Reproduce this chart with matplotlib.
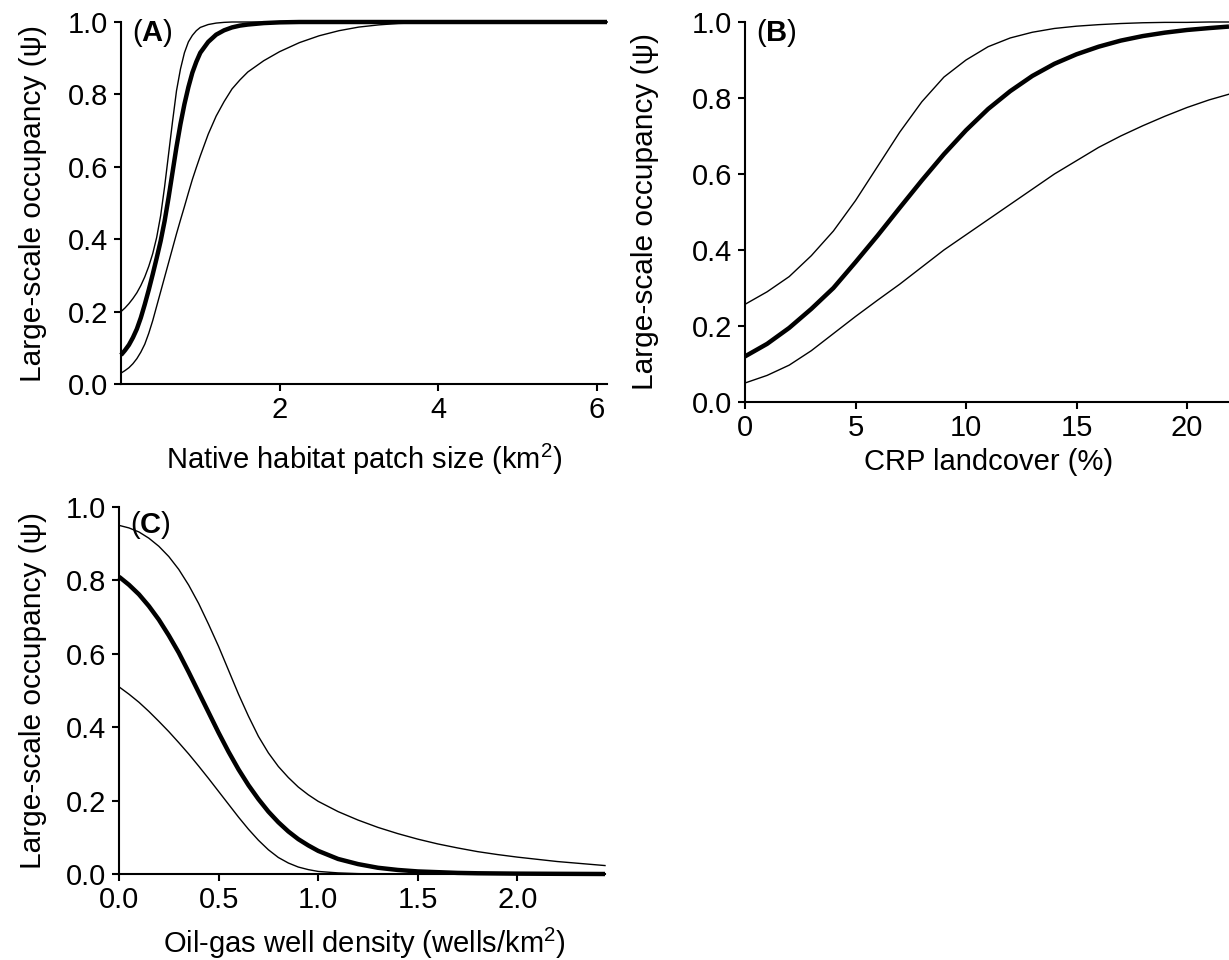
import matplotlib
matplotlib.use("Agg")
import matplotlib.pyplot as plt

plt.rcParams['font.family'] = ['Liberation Sans', 'DejaVu Sans']
plt.rcParams['mathtext.fontset'] = 'custom'
plt.rcParams['mathtext.rm'] = 'Liberation Sans'
plt.rcParams['mathtext.bf'] = 'Liberation Sans:bold'

# Panel A: native habitat patch size (km2)
a_x = [0, 0.05, 0.1, 0.15, 0.2, 0.25, 0.3, 0.35, 0.4, 0.45, 0.5, 0.55, 0.6, 0.65, 0.7,
       0.75, 0.8, 0.85, 0.9, 0.95, 1.0, 1.1, 1.2, 1.3, 1.4, 1.5, 1.6, 1.8, 2.0, 2.25,
       2.5, 2.75, 3.0, 3.25, 3.5, 4.0, 4.5, 6.13]
a_mean = [0.08, 0.093, 0.108, 0.128, 0.152, 0.183, 0.22, 0.26, 0.303, 0.348, 0.395, 0.45,
          0.515, 0.585, 0.655, 0.718, 0.773, 0.82, 0.86, 0.89, 0.915, 0.945, 0.965, 0.977,
          0.985, 0.99, 0.993, 0.997, 0.999, 1.0, 1.0, 1.0, 1.0, 1.0, 1.0, 1.0, 1.0, 1.0]
a_upper = [0.20, 0.21, 0.222, 0.236, 0.252, 0.272, 0.296, 0.325, 0.36, 0.405, 0.465, 0.545,
           0.635, 0.725, 0.81, 0.87, 0.915, 0.945, 0.963, 0.976, 0.985, 0.993, 0.997, 0.999,
           1.0, 1.0, 1.0, 1.0, 1.0, 1.0, 1.0, 1.0, 1.0, 1.0, 1.0, 1.0, 1.0, 1.0]
a_lower = [0.03, 0.037, 0.045, 0.056, 0.07, 0.088, 0.11, 0.14, 0.175, 0.215, 0.255, 0.295,
           0.335, 0.375, 0.415, 0.453, 0.49, 0.528, 0.565, 0.598, 0.63, 0.69, 0.74, 0.78,
           0.815, 0.84, 0.862, 0.893, 0.918, 0.943, 0.962, 0.976, 0.986, 0.992, 0.996,
           0.999, 1.0, 1.0]

# Panel B: CRP landcover (%)
b_x = [0, 1, 2, 3, 4, 5, 6, 7, 8, 9, 10, 11, 12, 13, 14, 15, 16, 17, 18, 19, 20, 21, 21.9]
b_mean = [0.12, 0.153, 0.195, 0.245, 0.30, 0.368, 0.438, 0.511, 0.583, 0.652, 0.715, 0.771,
          0.818, 0.858, 0.89, 0.915, 0.935, 0.951, 0.963, 0.972, 0.979, 0.984, 0.988]
b_upper = [0.257, 0.29, 0.33, 0.385, 0.45, 0.53, 0.62, 0.71, 0.79, 0.855, 0.90, 0.935,
           0.958, 0.973, 0.983, 0.989, 0.993, 0.996, 0.998, 0.999, 0.999, 1.0, 1.0]
b_lower = [0.05, 0.07, 0.097, 0.135, 0.18, 0.225, 0.268, 0.31, 0.355, 0.40, 0.44, 0.48,
           0.52, 0.56, 0.60, 0.635, 0.67, 0.70, 0.727, 0.752, 0.775, 0.795, 0.81]

# Panel C: oil-gas well density (wells/km2)
c_x = [0, 0.05, 0.1, 0.15, 0.2, 0.25, 0.3, 0.35, 0.4, 0.45, 0.5, 0.55, 0.6, 0.65, 0.7,
       0.75, 0.8, 0.85, 0.9, 0.95, 1.0, 1.1, 1.2, 1.3, 1.4, 1.5, 1.6, 1.7, 1.8, 1.9, 2.0,
       2.2, 2.44]
c_mean = [0.81, 0.788, 0.762, 0.73, 0.693, 0.65, 0.603, 0.55, 0.495, 0.44, 0.385, 0.333,
          0.285, 0.242, 0.204, 0.17, 0.141, 0.116, 0.095, 0.078, 0.063, 0.041, 0.027,
          0.017, 0.011, 0.007, 0.005, 0.003, 0.002, 0.0015, 0.001, 0.0005, 0.0]
c_upper = [0.95, 0.943, 0.932, 0.915, 0.893, 0.865, 0.83, 0.787, 0.737, 0.68, 0.62, 0.555,
           0.49, 0.43, 0.375, 0.33, 0.293, 0.263, 0.237, 0.216, 0.198, 0.17, 0.147, 0.127,
           0.11, 0.095, 0.082, 0.071, 0.061, 0.053, 0.046, 0.034, 0.023]
c_lower = [0.51, 0.49, 0.468, 0.443, 0.416, 0.388, 0.358, 0.327, 0.294, 0.26, 0.225, 0.19,
           0.155, 0.122, 0.092, 0.066, 0.045, 0.03, 0.019, 0.012, 0.007, 0.003, 0.001,
           0.0, 0.0, 0.0, 0.0, 0.0, 0.0, 0.0, 0.0, 0.0, 0.0]

y_ticks = [0.0, 0.2, 0.4, 0.6, 0.8, 1.0]
y_label = 'Large-scale occupancy (ψ)'

W, H = 1229, 960
fig = plt.figure(figsize=(W / 100, H / 100), dpi=100)


def box(left, top, right, bottom):
    return [left / W, (H - bottom) / H, (right - left) / W, (bottom - top) / H]


def panel(rect, x, mean, upper, lower, xlim, xticks, xticklabels, xlabel, tag, tag_y):
    ax = fig.add_axes(rect)
    ax.plot(x, upper, color='black', lw=1.0, clip_on=False)
    ax.plot(x, lower, color='black', lw=1.0, clip_on=False)
    ax.plot(x, mean, color='black', lw=3.2, clip_on=False, solid_capstyle='butt')
    ax.set_xlim(xlim)
    ax.set_ylim(0, 1)
    ax.set_xticks(xticks)
    ax.set_xticklabels(xticklabels)
    ax.set_yticks(y_ticks)
    ax.set_yticklabels(['%.1f' % v for v in y_ticks])
    for s in ['top', 'right']:
        ax.spines[s].set_visible(False)
    for s in ['left', 'bottom']:
        ax.spines[s].set_linewidth(1.5)
    ax.tick_params(direction='out', length=5, width=1.5, labelsize=21, pad=4)
    ax.set_xlabel(xlabel, fontsize=21)
    ax.set_ylabel(y_label, fontsize=21.5)
    ax.text(0.022, tag_y, '($\\mathbf{%s}$)' % tag, transform=ax.transAxes,
            fontsize=21, va='center', ha='left')
    return ax


axA = panel(box(121, 22, 607, 384), a_x, a_mean, a_upper, a_lower, (0, 6.13),
            [2, 4, 6], ['2', '4', '6'], 'Native habitat patch size (km$^2$)', 'A', 0.97)
axA.xaxis.set_label_coords(0.5, -0.16)
axA.yaxis.set_label_coords(-0.152, 0.5)

axB = panel(box(745, 22, 1229, 402), b_x, b_mean, b_upper, b_lower, (0, 21.9),
            [0, 5, 10, 15, 20], ['0', '5', '10', '15', '20'], 'CRP landcover (%)', 'B', 0.97)
axB.xaxis.set_label_coords(0.504, -0.121)
axB.yaxis.set_label_coords(-0.178, 0.5)

axC = panel(box(119, 507, 605, 874), c_x, c_mean, c_upper, c_lower, (0, 2.44),
            [0, 0.5, 1.0, 1.5, 2.0], ['0.0', '0.5', '1.0', '1.5', '2.0'],
            'Oil-gas well density (wells/km$^2$)', 'C', 0.95)
axC.xaxis.set_label_coords(0.504, -0.142)
axC.yaxis.set_label_coords(-0.148, 0.5)

plt.savefig('out.png', dpi=100)
